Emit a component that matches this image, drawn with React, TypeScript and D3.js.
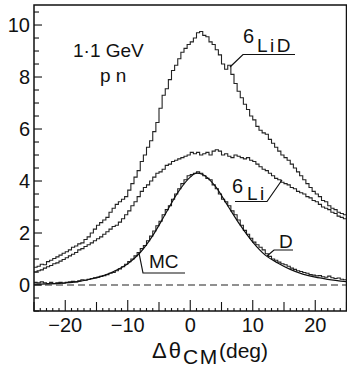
import React from "react";
import * as d3 from "d3";

// Histogram bins: 0.5 deg wide, from -25 to 25 (left edges)
const binStarts: number[] = d3.range(-25, 25, 0.5);

const liD: number[] = [
  0.68, 0.72, 0.8, 0.78, 0.9, 0.95, 1.02, 1.08, 1.15, 1.22,
  1.28, 1.35, 1.45, 1.5, 1.58, 1.62, 1.75, 1.85, 2.0, 2.15,
  2.3, 2.4, 2.5, 2.6, 2.8, 2.95, 3.1, 3.2, 3.3, 3.4,
  3.65, 3.9, 4.15, 4.4, 4.75, 5.0, 5.3, 5.55, 5.9, 6.25,
  6.8, 7.3, 7.55, 7.9, 8.25, 8.45, 8.7, 8.95, 9.1, 9.25,
  9.35, 9.5, 9.7, 9.75, 9.6, 9.55, 9.35, 9.25, 9.05, 8.85,
  8.5, 8.3, 8.45, 8.1, 7.75, 7.45, 7.2, 6.95, 6.75, 6.5,
  6.35, 6.1, 5.95, 5.85, 5.8, 5.6, 5.45, 5.3, 5.15, 5.0,
  4.9, 4.8, 4.65, 4.5, 4.35, 4.2, 4.05, 3.9, 3.75, 3.6,
  3.5, 3.4, 3.25, 3.2, 3.05, 2.95, 2.9, 2.8, 2.75, 2.7,
];

const li: number[] = [
  0.5, 0.55, 0.58, 0.65, 0.7, 0.75, 0.82, 0.85, 0.92, 0.98,
  1.05, 1.12, 1.18, 1.25, 1.35, 1.4, 1.48, 1.55, 1.62, 1.7,
  1.78, 1.85, 1.95, 2.05, 2.15, 2.25, 2.3, 2.42, 2.55, 2.7,
  2.85, 3.05, 3.2, 3.4, 3.6, 3.75, 3.85, 4.0, 4.15, 4.3,
  4.35, 4.45, 4.6, 4.65, 4.75, 4.8, 4.85, 4.9, 4.95, 5.0,
  5.1, 5.05, 5.1, 5.0, 5.05, 5.1, 5.0, 5.15, 5.2, 5.15,
  5.0, 5.05, 4.95, 4.9, 5.0, 4.95, 4.9, 4.85, 4.9, 4.8,
  4.75, 4.65, 4.55, 4.45, 4.4, 4.3, 4.2, 4.1, 4.05, 3.95,
  3.9, 3.85, 3.75, 3.7, 3.6, 3.55, 3.5, 3.4, 3.35, 3.25,
  3.2, 3.1, 3.0, 2.95, 2.9, 2.8, 2.75, 2.65, 2.6, 2.55,
];

const dd: number[] = [
  0.1, 0.08, 0.12, 0.08, 0.06, 0.1, 0.05, 0.08, 0.1, 0.07,
  0.1, 0.12, 0.14, 0.12, 0.16, 0.2, 0.18, 0.22, 0.25, 0.28,
  0.3, 0.33, 0.36, 0.4, 0.45, 0.48, 0.55, 0.62, 0.7, 0.8,
  0.9, 1.0, 1.12, 1.25, 1.4, 1.52, 1.7, 1.88, 2.08, 2.28,
  2.45, 2.7, 2.9, 3.05, 3.3, 3.5, 3.7, 3.9, 4.05, 4.2,
  4.25, 4.3, 4.35, 4.3, 4.2, 4.1, 4.05, 3.85, 3.7, 3.5,
  3.3, 3.2, 3.05, 2.85, 2.7, 2.5, 2.3, 2.1, 1.95, 1.8,
  1.65, 1.55, 1.45, 1.35, 1.2, 1.1, 1.0, 0.95, 0.88, 0.82,
  0.78, 0.72, 0.65, 0.6, 0.55, 0.52, 0.48, 0.45, 0.4, 0.38,
  0.35, 0.36, 0.32, 0.3, 0.34, 0.28, 0.25, 0.27, 0.22, 0.2,
];

// Monte Carlo smooth curve
const mcX: number[] = [-25, -22, -20, -18, -16, -14, -12, -10, -8, -6, -4, -2, 0, 1, 2, 4, 6, 8, 10, 12, 14, 16, 18, 20, 22, 25];
const mcY: number[] = [0.03, 0.05, 0.08, 0.13, 0.22, 0.35, 0.55, 0.82, 1.25, 1.9, 2.72, 3.55, 4.15, 4.3, 4.25, 3.8, 3.05, 2.3, 1.65, 1.15, 0.85, 0.6, 0.42, 0.3, 0.22, 0.13];

const xLabelTicks: number[] = [-20, -10, 0, 10, 20];
const yLabelTicks: number[] = [0, 2, 4, 6, 8, 10];

const W = 347;
const H = 369;
const L = 34;
const R = 346.5;
const T = 5;
const B = 311;

export default function App() {
  const x = d3.scaleLinear().domain([-25, 25]).range([L, R]);
  const y = d3.scaleLinear().domain([-1, 10.77]).range([B, T]);
  const font = "'Liberation Sans', Arial, sans-serif";

  const histPath = (vals: number[]) => {
    const pts: [number, number][] = binStarts.map((b, i) => [b, vals[i]]);
    pts.push([25, vals[vals.length - 1]]);
    return d3
      .line<[number, number]>()
      .x((d) => x(d[0]))
      .y((d) => y(d[1]))
      .curve(d3.curveStepAfter)(pts) as string;
  };

  const mcPath = d3
    .line<number>()
    .x((d) => x(d))
    .y((_, i) => y(mcY[i]))
    .curve(d3.curveMonotoneX)(mcX) as string;

  const xMinor = d3.range(-25, 26, 1);
  const yMinor = d3.range(-1, 10.76, 0.5);

  return (
    <svg
      width={W}
      height={H}
      style={{ position: "absolute", left: 0, top: 0, background: "#fff" }}
      fontFamily={font}
    >
      <rect x={0} y={0} width={W} height={H} fill="#fff" />
      <defs>
        <clipPath id="plotclip">
          <rect x={L} y={T} width={R - L} height={B - T} />
        </clipPath>
      </defs>

      {/* zero dashed line */}
      <line x1={L} x2={R} y1={y(0)} y2={y(0)} stroke="#222" strokeWidth={1.1} strokeDasharray="7,4" />

      <g clipPath="url(#plotclip)" fill="none">
        <path d={histPath(liD)} stroke="#222" strokeWidth={1.1} />
        <path d={histPath(li)} stroke="#222" strokeWidth={1.1} />
        <path d={histPath(dd)} stroke="#222" strokeWidth={1.1} />
        <path d={mcPath} stroke="#111" strokeWidth={1.2} />
      </g>

      {/* frame */}
      <rect x={L} y={T} width={R - L} height={B - T} fill="none" stroke="#111" strokeWidth={1.5} />

      {/* x ticks */}
      {xMinor.map((v) => {
        const len = v % 10 === 0 ? 11 : v % 5 === 0 ? 9 : 3;
        return <line key={"xt" + v} x1={x(v)} x2={x(v)} y1={B} y2={B - len} stroke="#111" strokeWidth={1.1} />;
      })}
      {/* y ticks */}
      {yMinor.map((v) => {
        const len = Math.abs(v % 2) < 1e-6 ? 8 : 5;
        return <line key={"yt" + v} x1={L} x2={L + len} y1={y(v)} y2={y(v)} stroke="#111" strokeWidth={1.1} />;
      })}

      {/* tick labels */}
      {xLabelTicks.map((v) => (
        <text key={"xl" + v} x={x(v)} y={332} fontSize={20} textAnchor="middle" fill="#111">
          {v < 0 ? "\u2212" + Math.abs(v) : String(v)}
        </text>
      ))}
      {yLabelTicks.map((v) => (
        <text key={"yl" + v} x={30} y={y(v) + 7} fontSize={20} textAnchor="end" fill="#111">
          {v}
        </text>
      ))}

      {/* axis title */}
      <text y={358} fontSize={22} fill="#111">
        <tspan x={152} letterSpacing={2}>Δθ</tspan>
        <tspan x={183} dy={6} fontSize={21} letterSpacing={1.5}>CM</tspan>
        <tspan x={219} dy={-6} fontSize={21}>(deg)</tspan>
      </text>

      {/* annotations */}
      <text x={73} y={57} fontSize={19} fill="#111">1·1 GeV</text>
      <text x={100} y={82} fontSize={19} fill="#111">p n</text>

      {/* 6LiD */}
      <text x={243} y={43} fontSize={20} fill="#111">6</text>
      <text x={257} y={52} fontSize={19} fill="#111" letterSpacing={2.5}>LiD</text>
      <polyline points="295,54.5 243,54.5 230,67" fill="none" stroke="#111" strokeWidth={1.2} />

      {/* 6Li */}
      <text x={232} y={193} fontSize={20} fill="#111">6</text>
      <text x={247} y={200} fontSize={19} fill="#111" letterSpacing={2.5}>Li</text>
      <polyline points="235,201.5 267,201.5 282,180" fill="none" stroke="#111" strokeWidth={1.2} />

      {/* D */}
      <text x={279} y={248} fontSize={19} fill="#111">D</text>
      <polyline points="293,250 274,250 267,256" fill="none" stroke="#111" strokeWidth={1.2} />

      {/* MC */}
      <text x={149} y={268} fontSize={19} fill="#111">MC</text>
      <polyline points="185,273 143,273 139,253" fill="none" stroke="#111" strokeWidth={1.2} />
    </svg>
  );
}
